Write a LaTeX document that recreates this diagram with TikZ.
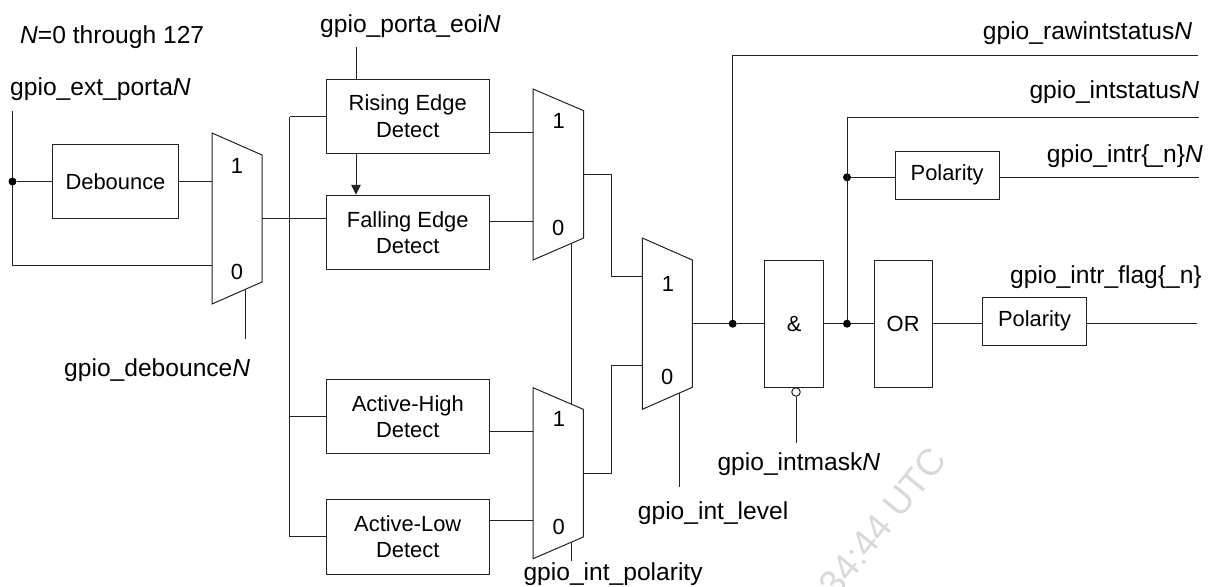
\documentclass[tikz,border=0pt]{standalone}
\usepackage{fontspec}
\setmainfont{Liberation Sans}
\usetikzlibrary{arrows.meta}
\definecolor{wire}{HTML}{222222}
\newcommand{\labelfont}{\fontsize{24.6}{24.6}\selectfont}
\newcommand{\boxfont}{\fontsize{21.9}{26.4}\selectfont}
\tikzset{
  blk/.style={draw=wire,line width=1pt,fill=white,inner sep=0pt,align=center,font=\boxfont},
  muxshape/.style={draw=wire,line width=1pt,fill=white,line join=miter},
  wirepath/.style={draw=wire,line width=1pt},
  dotmark/.style={circle,fill=black,inner sep=0pt,minimum size=8pt},
  bubble/.style={circle,draw=wire,line width=1pt,fill=white,inner sep=0pt,minimum size=8.5pt},
  sig/.style={inner sep=0pt,anchor=base west,font=\labelfont,text=black},
  digit/.style={inner sep=0pt,anchor=base,font=\boxfont,text=black},
  wmark/.style={inner sep=0pt,anchor=base west,font=\fontsize{37}{37}\selectfont,text=black!15,rotate=51},
}
\begin{document}
\begin{tikzpicture}[x=1pt,y=-1pt]
\useasboundingbox (0,0) rectangle (1212,586);
\fill[white] (0,0) rectangle (1212,586);

% watermark
\node[wmark] (wm) at (836,600) {34:44 UTC};

% free ends and ports
\coordinate (extTop) at (12.5,111);
\coordinate (extLow) at (12.5,265.5);
\coordinate (m1i0) at (212,265.5);
\coordinate (m1i1) at (212,181.5);
\coordinate (m1out) at (262,218.7);
\coordinate (m1sel) at (245.3,289.5);
\coordinate (m1selEnd) at (245.3,339.3);
\coordinate (busTop) at (289.5,116.5);
\coordinate (busBot) at (289.5,536.7);
\coordinate (eoiTop) at (356,47);
\coordinate (m2i1) at (533,132.7);
\coordinate (m2i0) at (533,221.3);
\coordinate (m2out) at (583.7,174.3);
\coordinate (m2sel) at (571.7,243.5);
\coordinate (m3top) at (571.7,404);
\coordinate (m3bot) at (571.7,542.5);
\coordinate (m3selEnd) at (571.7,560.7);
\coordinate (m3i1) at (533,431.7);
\coordinate (m3i0) at (533,520);
\coordinate (m3out) at (583.3,473);
\coordinate (bendA) at (611.7,276.7);
\coordinate (bendB) at (611.3,365.3);
\coordinate (m4i1) at (642.3,276.7);
\coordinate (m4i0) at (642.3,365.3);
\coordinate (m4out) at (692.3,323.7);
\coordinate (m4sel) at (679,393.3);
\coordinate (m4selEnd) at (679,486.7);
\coordinate (rawEnd) at (1198.3,55.3);
\coordinate (statEnd) at (1199.3,117);
\coordinate (intrEnd) at (1199.3,177.3);
\coordinate (flagEnd) at (1197.3,323.7);
\coordinate (maskEnd) at (796,443.3);

% wires (under the blocks)
\draw[wirepath] (extTop) -- (extLow) -- (m1i0);
\draw[wirepath] (busTop) -- (busBot);
\draw[wirepath] (m2sel) -- (m3top);
\draw[wirepath] (m3bot) -- (m3selEnd);
\draw[wirepath] (m1sel) -- (m1selEnd);
\draw[wirepath] (m4sel) -- (m4selEnd);

% multiplexers
\draw[muxshape] (212,133) -- (262,155) -- (262,282) -- (212,304) -- cycle;
\draw[muxshape] (533,89) -- (583.7,110.7) -- (583.7,238) -- (533,260) -- cycle;
\draw[muxshape] (533,387.7) -- (583.3,409.3) -- (583.3,537) -- (533,558.7) -- cycle;
\draw[muxshape] (642.3,238) -- (692.3,260) -- (692.3,387.3) -- (642.3,409.3) -- cycle;

% blocks
\node[blk,minimum width=126pt,minimum height=74.5pt] (deb) at (115.5,181.25) {Debounce};
\node[blk,minimum width=163.5pt,minimum height=74.5pt] (ris) at (407.75,116.25) {Rising Edge\\Detect};
\node[blk,minimum width=163.5pt,minimum height=74.5pt] (fal) at (407.75,232.5) {Falling Edge\\[-0.6pt]Detect};
\node[blk,minimum width=163.5pt,minimum height=74.5pt] (ahi) at (407.75,416.35) {Active-High\\[-0.4pt]Detect};
\node[blk,minimum width=163.5pt,minimum height=74.5pt] (alo) at (407.75,536.75) {Active-Low\\[-0.4pt]Detect};
\node[blk,minimum width=59pt,minimum height=127pt] (and) at (794.2,323.8) {\&};
\node[blk,minimum width=58.3pt,minimum height=127pt] (orb) at (903.15,323.8) {OR};
\node[blk,minimum width=103.7pt,minimum height=48pt] (pol) at (947.15,175.3) {Polarity};
\node[blk,minimum width=103.6pt,minimum height=47.7pt] (flg) at (1034.5,321.15) {Polarity};

% junctions
\node[dotmark] (j1) at (12.5,181.5) {};
\node[dotmark] (j2) at (732.7,323.7) {};
\node[dotmark] (j3) at (847,323.7) {};
\node[dotmark] (j4) at (847,177.3) {};
\node[bubble] (bub) at (796,392) {};

% connectors
\draw[wirepath] (j1) -- (deb.west |- j1);
\draw[wirepath] (deb.east |- j1) -- (m1i1);
\draw[wirepath] (m1out) -- (fal.west |- m1out);
\draw[wirepath] (busTop) -- (ris.west |- busTop);
\draw[wirepath] (busTop |- ahi.west) -- (ahi.west);
\draw[wirepath] (busBot) -- (alo.west |- busBot);
\draw[wirepath] (eoiTop) -- (eoiTop |- ris.north);
\draw[wirepath,-{Triangle[length=10pt,width=9.5pt]}] (eoiTop |- ris.south) -- (eoiTop |- fal.north);
\draw[wirepath] (ris.east |- m2i1) -- (m2i1);
\draw[wirepath] (fal.east |- m2i0) -- (m2i0);
\draw[wirepath] (ahi.east |- m3i1) -- (m3i1);
\draw[wirepath] (alo.east |- m3i0) -- (m3i0);
\draw[wirepath] (m2out) -| (bendA) -- (m4i1);
\draw[wirepath] (m3out) -| (bendB) -- (m4i0);
\draw[wirepath] (m4out) -- (j2);
\draw[wirepath] (j2) -- (and.west |- j2);
\draw[wirepath] (j2) |- (rawEnd);
\draw[wirepath] (and.east |- j3) -- (j3);
\draw[wirepath] (j3) -- (orb.west |- j3);
\draw[wirepath] (j3) |- (statEnd);
\draw[wirepath] (j4) -- (pol.west |- j4);
\draw[wirepath] (pol.east |- j4) -- (intrEnd);
\draw[wirepath] (orb.east |- j3) -- (flg.west |- j3);
\draw[wirepath] (flg.east |- j3) -- (flagEnd);
\draw[wirepath] (bub) -- (maskEnd);

% mux digits
\node[digit] (m1a) at (237,173) {1};
\node[digit] (m1b) at (237,279) {0};
\node[digit] (m2a) at (558.7,128) {1};
\node[digit] (m2b) at (558.3,235) {0};
\node[digit] (m3a) at (559,426.7) {1};
\node[digit] (m3b) at (558.7,534) {0};
\node[digit] (m4a) at (668,291) {1};
\node[digit] (m4b) at (667.3,384) {0};

% signal names
\node[sig] (t0) at (20,44) {\textit{N}=0 through 127};
\node[sig] (t1) at (10,95) {gpio\_ext\_porta\textit{N}};
\node[sig] (t2) at (320,33) {gpio\_porta\_eoi\textit{N}};
\node[sig] (t3) at (64,376) {gpio\_debounce\textit{N}};
\node[sig] (t4) at (523.3,580) {gpio\_int\_polarity};
\node[sig] (t5) at (637.7,519.3) {gpio\_int\_level};
\node[sig] (t6) at (717.3,470) {gpio\_intmask\textit{N}};
\node[sig] (t7) at (982.7,39.3) {gpio\_rawintstatus\textit{N}};
\node[sig] (t8) at (1029.3,98.7) {gpio\_intstatus\textit{N}};
\node[sig] (t9) at (1046.7,162.7) {gpio\_intr\{\_n\}\textit{N}};
\node[sig] (t10) at (1010,283.3) {gpio\_intr\_flag\{\_n\}};
\end{tikzpicture}
\end{document}
